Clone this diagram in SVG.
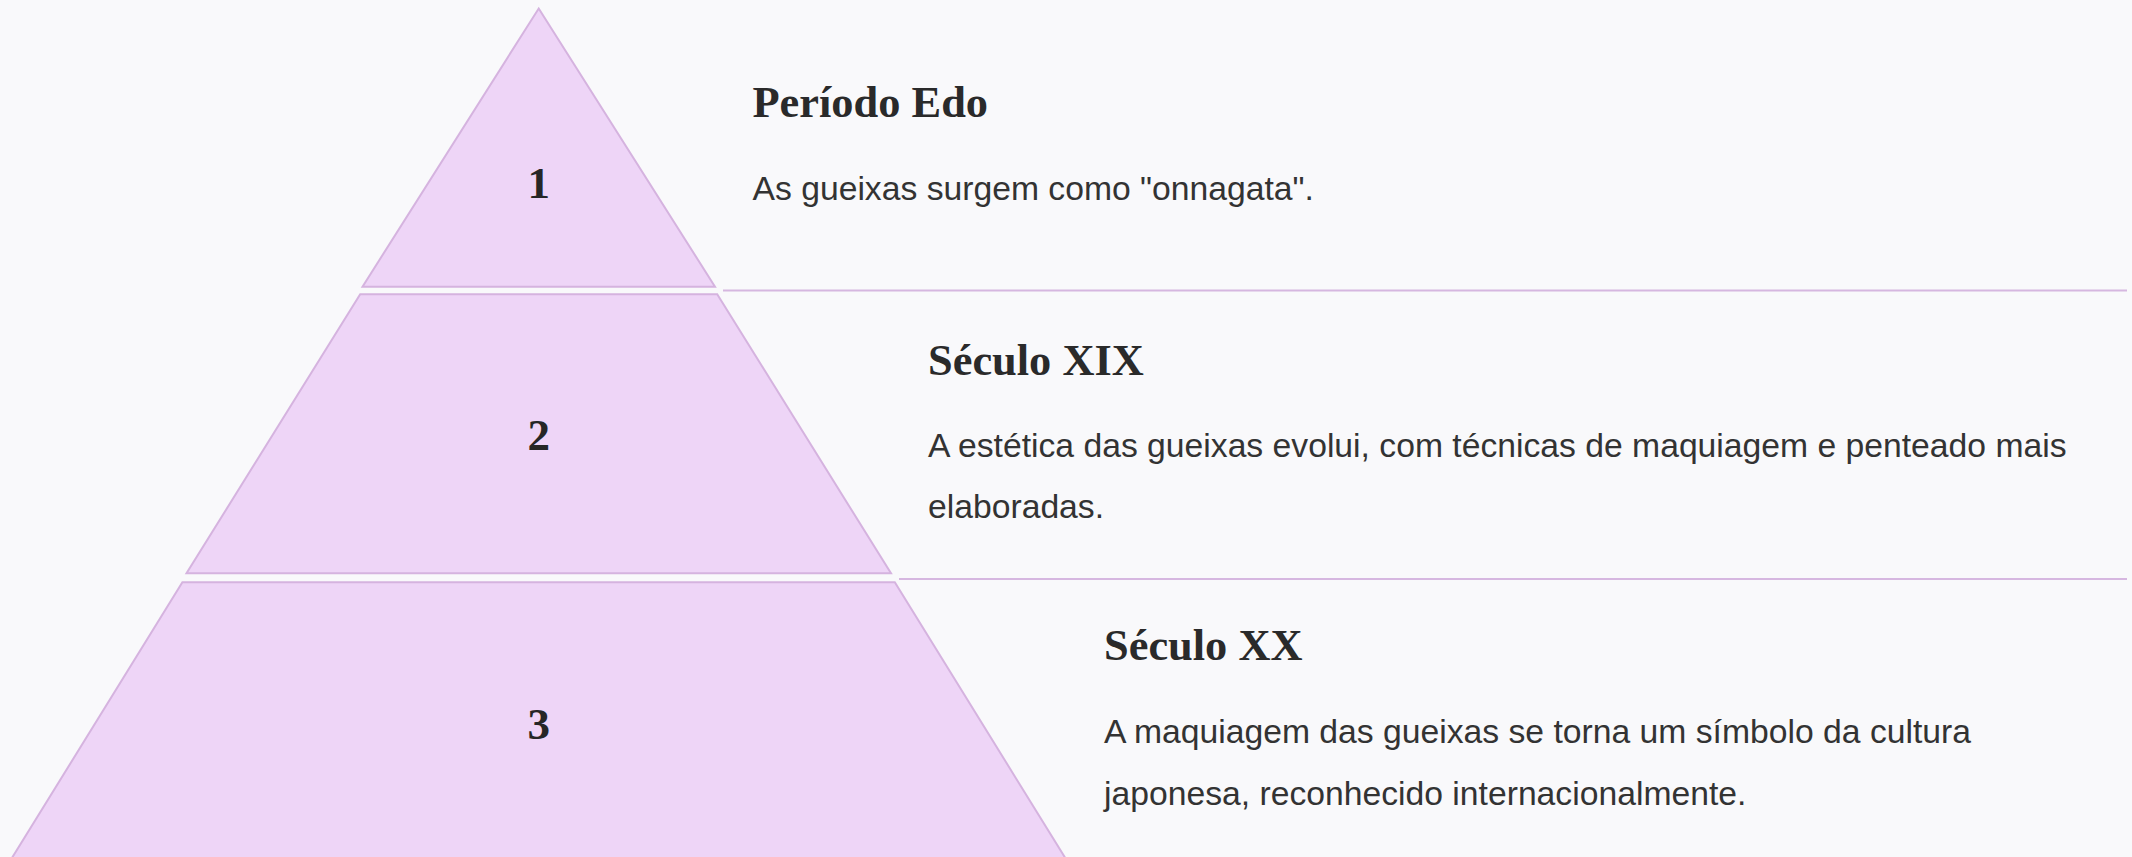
<svg xmlns="http://www.w3.org/2000/svg" width="2132" height="857" viewBox="0 0 2132 857">
  <style>
    .lvl { fill: #eed5f7; stroke: #d5b3df; stroke-width: 2; stroke-linejoin: miter; }
    .num { font-family: "Liberation Serif", "DejaVu Serif", serif; font-weight: bold; font-size: 45px; fill: #262626; text-anchor: middle; }
    .title { font-family: "Liberation Serif", "DejaVu Serif", serif; font-weight: bold; font-size: 44.4px; fill: #2a2a2a; }
    .body { font-family: "Liberation Sans", Arial, sans-serif; font-size: 33.7px; fill: #333333; }
    .sep { stroke: #d6b7e0; stroke-width: 2; fill: none; }
  </style>
  <rect x="0" y="0" width="2132" height="857" fill="#f9f9fb"/>
  <g id="connectors">
    <line class="sep" x1="723" y1="290.5" x2="2127" y2="290.5"/>
    <line class="sep" x1="899" y1="579" x2="2127" y2="579"/>
  </g>
  <g id="level-1">
    <polygon class="lvl" points="538.7,8.5 715,286.7 362.5,286.7"/>
    <text class="num" x="538.7" y="197.5">1</text>
    <text class="title" x="752.5" y="117">Período Edo</text>
    <text class="body" x="752.5" y="199.5">As gueixas surgem como "onnagata".</text>
  </g>
  <g id="level-2">
    <polygon class="lvl" points="360.2,294.3 717.2,294.3 891,573.3 186.5,573.3"/>
    <text class="num" x="538.7" y="449.5">2</text>
    <text class="title" x="928" y="375">Século XIX</text>
    <text class="body" x="928" y="457">A estética das gueixas evolui, com técnicas de maquiagem e penteado mais</text>
    <text class="body" x="928" y="518">elaboradas.</text>
  </g>
  <g id="level-3">
    <polygon class="lvl" points="182.4,582.3 894.8,582.3 1069,864 8.2,864"/>
    <text class="num" x="538.7" y="738.5">3</text>
    <text class="title" x="1104" y="660">Século XX</text>
    <text class="body" x="1104" y="743">A maquiagem das gueixas se torna um símbolo da cultura</text>
    <text class="body" x="1104" y="805">japonesa, reconhecido internacionalmente.</text>
  </g>
</svg>
